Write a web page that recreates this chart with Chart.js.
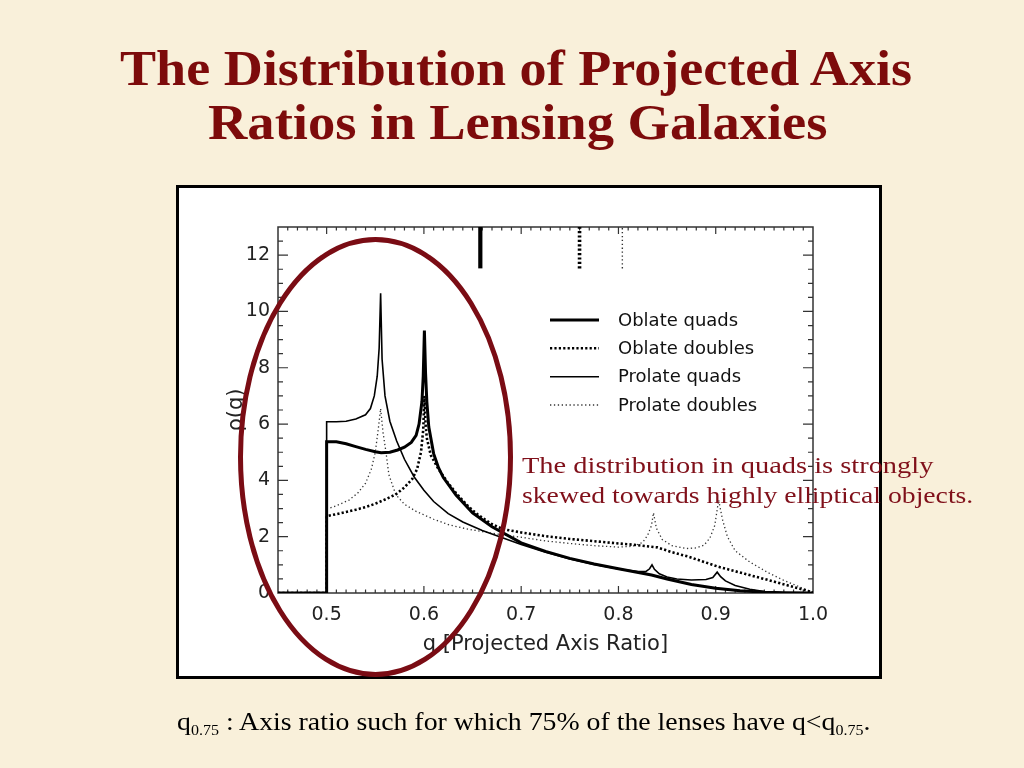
<!DOCTYPE html>
<html><head><meta charset="utf-8">
<script src="https://cdn.jsdelivr.net/npm/chart.js@4.4.1/dist/chart.umd.min.js"></script>
<style>
html,body{margin:0;padding:0;}
body{width:1024px;height:768px;overflow:hidden;position:relative;background:#f9f0da;}
#box{position:absolute;left:176px;top:185px;width:706px;height:494px;box-sizing:border-box;border:3px solid #000;background:#fff;}
#c{position:absolute;left:0;top:0;}
#ell{position:absolute;left:0;top:0;pointer-events:none;}
.t{position:absolute;white-space:nowrap;line-height:1;transform-origin:0 0;}
.title{font-family:"Liberation Serif";font-weight:bold;font-size:51px;color:#7d0b0b;}
.note{font-family:"Liberation Serif";font-size:24px;color:#80101a;}
.foot{font-family:"Liberation Serif";font-size:26px;color:#000;}
.sub{font-size:15px;position:relative;top:5px;}
</style></head>
<body>
<div id="box"></div>
<canvas id="c" width="1024" height="768"></canvas>
<svg id="ell" width="1024" height="768"><ellipse cx="375.5" cy="457" rx="135" ry="217.5" fill="none" stroke="#7a0c14" stroke-width="5"/></svg>
<div class="t title" data-left="120" data-base="86" data-w="792" data-size="51">The Distribution of Projected Axis</div>
<div class="t title" data-left="208" data-base="140" data-w="620" data-size="51">Ratios in Lensing Galaxies</div>
<div class="t note" data-left="522" data-base="473" data-w="411" data-size="24">The distribution in quads is strongly</div>
<div class="t note" data-left="522" data-base="503" data-w="451" data-size="24">skewed towards highly elliptical objects.</div>
<div class="t foot" data-left="177" data-base="731" data-w="693" data-size="26">q<span class="sub">0.75</span> : Axis ratio such for which 75% of the lenses have q&lt;q<span class="sub">0.75</span>.</div>
<script>
// ---- data ----
const xTickValues = [0.5, 0.6, 0.7, 0.8, 0.9, 1.0];
const yTickValues = [0, 2, 4, 6, 8, 10, 12];

const qOblateQuads   = [0.45,0.5,0.5,0.51,0.52,0.53,0.54,0.55,0.556,0.565,0.573,0.58,0.587,0.592,0.595,0.598,0.5993,0.6005,0.6017,0.603,0.605,0.61,0.615,0.62,0.633,0.65,0.67,0.7,0.725,0.75,0.775,0.8,0.834,0.85,0.875,0.9,0.925,0.95,0.97,1.0];
const rhoOblateQuads = [0,0,5.37,5.37,5.3,5.2,5.1,5.02,4.98,5.0,5.08,5.18,5.35,5.6,6.0,6.8,7.7,9.32,7.8,6.8,5.9,4.95,4.45,4.1,3.48,2.85,2.35,1.78,1.48,1.23,1.03,0.86,0.64,0.5,0.3,0.17,0.08,0.03,0.01,0];

const qOblateDoubles   = [0.45,0.5,0.5,0.51,0.52,0.53,0.54,0.55,0.56,0.571,0.58,0.588,0.593,0.597,0.5993,0.6005,0.6017,0.603,0.607,0.615,0.625,0.633,0.645,0.654,0.668,0.681,0.7,0.725,0.75,0.775,0.8,0.82,0.84,0.855,0.872,0.89,0.903,0.93,0.954,0.975,0.99,1.0];
const rhoOblateDoubles = [0,0,2.73,2.8,2.88,2.96,3.05,3.17,3.32,3.5,3.75,4.05,4.4,5.0,5.8,7.0,6.0,5.5,4.9,4.4,3.9,3.55,3.1,2.82,2.48,2.27,2.15,2.02,1.92,1.84,1.76,1.7,1.62,1.45,1.29,1.08,0.93,0.68,0.46,0.26,0.12,0.02];

const qProlateQuads   = [0.45,0.5,0.5,0.51,0.52,0.53,0.54,0.545,0.549,0.552,0.554,0.5555,0.557,0.56,0.565,0.572,0.58,0.59,0.6,0.61,0.625,0.64,0.66,0.68,0.7,0.725,0.75,0.775,0.8,0.82,0.828,0.832,0.8345,0.837,0.842,0.85,0.86,0.875,0.89,0.897,0.9015,0.905,0.91,0.92,0.935,0.95,0.97,1.0];
const rhoProlateQuads = [0,0,6.08,6.08,6.1,6.18,6.33,6.55,7.0,7.7,8.7,10.65,8.3,7.0,6.1,5.4,4.75,4.12,3.65,3.25,2.82,2.52,2.22,1.97,1.72,1.45,1.21,1.01,0.85,0.76,0.76,0.86,1.0,0.84,0.68,0.57,0.5,0.46,0.48,0.55,0.74,0.58,0.43,0.27,0.13,0.05,0.01,0];

const qProlateDoubles   = [0.45,0.5,0.5,0.51,0.523,0.532,0.54,0.546,0.55,0.553,0.5555,0.558,0.561,0.564,0.571,0.58,0.592,0.61,0.626,0.645,0.66,0.68,0.7,0.725,0.75,0.775,0.8,0.815,0.825,0.83,0.834,0.836,0.839,0.845,0.855,0.87,0.88,0.888,0.894,0.899,0.903,0.907,0.912,0.92,0.935,0.954,0.97,0.989,1.0];
const rhoProlateDoubles = [0,0,2.98,3.1,3.3,3.55,3.9,4.4,5.0,5.8,6.55,5.7,5.0,4.2,3.5,3.15,2.9,2.62,2.42,2.27,2.18,2.07,1.98,1.85,1.76,1.68,1.63,1.66,1.8,2.05,2.4,2.85,2.3,1.9,1.68,1.58,1.6,1.7,1.95,2.4,3.3,2.6,2.0,1.5,1.1,0.72,0.45,0.18,0.02];

// q_0.75 markers at the top of the plot
const q75Labels = ['Oblate quads', 'Oblate doubles', 'Prolate doubles'];
const q75Values = [0.658, 0.760, 0.804];
const markerRange = [11.53, 13];

const seriesNames = ['Oblate quads', 'Oblate doubles', 'Prolate quads', 'Prolate doubles'];

// ---- styles ----
const styles = [
  {borderColor:'#000', borderWidth:3,   borderDash:[]},
  {borderColor:'#000', borderWidth:2.6, borderDash:[2.2,2.2]},
  {borderColor:'#000', borderWidth:1.6, borderDash:[]},
  {borderColor:'#333', borderWidth:1.3, borderDash:[1.3,2.6]}
];
const markerStyles = [
  {borderColor:'#000', borderWidth:4.2, borderDash:[]},
  {borderColor:'#000', borderWidth:3.6, borderDash:[2.2,2.2]},
  {borderColor:'#333', borderWidth:1.4, borderDash:[1.3,2.6]}
];

function pts(qs, rs){ return qs.map((q,i)=>({x:q, y:rs[i]})); }
const curveData = [
  pts(qOblateQuads, rhoOblateQuads),
  pts(qOblateDoubles, rhoOblateDoubles),
  pts(qProlateQuads, rhoProlateQuads),
  pts(qProlateDoubles, rhoProlateDoubles)
];

const datasets = curveData.map((d,i)=>Object.assign({
  label: seriesNames[i], data: d, showLine:true, pointRadius:0, tension:0, fill:false
}, styles[i]));
q75Values.forEach((q,i)=>{
  datasets.push(Object.assign({
    label: 'q0.75 ' + q75Labels[i], data:[{x:q,y:markerRange[0]},{x:q,y:markerRange[1]}],
    showLine:true, pointRadius:0, fill:false
  }, markerStyles[i]));
});

const framePlugin = {
  id:'frame',
  beforeDatasetsDraw(chart){
    const {ctx, chartArea:a, scales:{x,y}} = chart;
    ctx.save();
    ctx.strokeStyle='#333'; ctx.lineWidth=1.5;
    ctx.strokeRect(a.left, a.top, a.right-a.left, a.bottom-a.top);
    ctx.lineWidth=1.2;
    ctx.beginPath();
    for (let i=46;i<=99;i++){
      const px = x.getPixelForValue(i/100);
      const L = (i%10===0)?7:3.5;
      ctx.moveTo(px,a.bottom); ctx.lineTo(px,a.bottom-L);
      ctx.moveTo(px,a.top); ctx.lineTo(px,a.top+L);
    }
    for (let i=1;i<26;i++){
      const py = y.getPixelForValue(i/2);
      const L = (i%4===0)?10:5;
      ctx.moveTo(a.left,py); ctx.lineTo(a.left+L,py);
      ctx.moveTo(a.right,py); ctx.lineTo(a.right-L,py);
    }
    ctx.stroke();
    ctx.restore();
  }
};

const legendPlugin = {
  id:'innerLegend',
  afterDatasetsDraw(chart){
    const {ctx, chartArea:a} = chart;
    ctx.save();
    const rows = [93, 121.3, 149.7, 178];
    ctx.font = '18px "DejaVu Sans"';
    ctx.textBaseline = 'middle';
    ctx.textAlign = 'left';
    seriesNames.forEach((name,i)=>{
      const s = styles[i];
      const yy = a.top + rows[i];
      ctx.strokeStyle = s.borderColor; ctx.lineWidth = s.borderWidth;
      ctx.setLineDash(s.borderDash);
      ctx.beginPath(); ctx.moveTo(a.left+272, yy); ctx.lineTo(a.left+321, yy); ctx.stroke();
      ctx.setLineDash([]);
      ctx.fillStyle = '#111';
      ctx.fillText(name, a.left+340, yy+1);
    });
    ctx.restore();
  }
};

const tickFont = {family:'DejaVu Sans', size:19};
new Chart(document.getElementById('c'), {
  type:'scatter',
  data:{datasets},
  options:{
    responsive:false, animation:false, devicePixelRatio:1,
    layout:{padding:{left:226, right:211, top:227, bottom:113}},
    plugins:{legend:{display:false}, tooltip:{enabled:false}},
    scales:{
      x:{
        type:'linear', min:0.45, max:1.0,
        grid:{display:false, drawTicks:false}, border:{display:false},
        afterBuildTicks: s => { s.ticks = xTickValues.map(v=>({value:v})); },
        afterFit: s => { s.height = 62; },
        ticks:{callback: v => Number(v).toFixed(1), font:tickFont, color:'#222', padding:11, maxRotation:0, autoSkip:false},
        title:{display:true, text:'q [Projected Axis Ratio]', font:{family:'DejaVu Sans', size:21, lineHeight:1}, color:'#222', padding:0}
      },
      y:{
        type:'linear', min:0, max:13,
        grid:{display:false, drawTicks:false}, border:{display:false},
        afterBuildTicks: s => { s.ticks = yTickValues.map(v=>({value:v})); },
        afterFit: s => { s.width = 52; },
        ticks:{callback: v => String(v), font:tickFont, color:'#222', padding:8, autoSkip:false},
        title:{display:true, text:'ρ(q)', font:{family:'DejaVu Sans', size:21, lineHeight:1}, color:'#222', padding:0}
      }
    }
  },
  plugins:[framePlugin, legendPlugin]
});

function fitTexts(){
  document.querySelectorAll('.t').forEach(el=>{
    const size = +el.dataset.size;
    el.style.left = el.dataset.left + 'px';
    el.style.top = (+el.dataset.base - 0.8375*size) + 'px';
    el.style.transform = 'none';
    const w = el.offsetWidth;
    el.style.transform = 'scaleX(' + (+el.dataset.w / w) + ')';
  });
}
fitTexts();
if (document.fonts && document.fonts.ready) document.fonts.ready.then(fitTexts);
</script>
</body></html>
